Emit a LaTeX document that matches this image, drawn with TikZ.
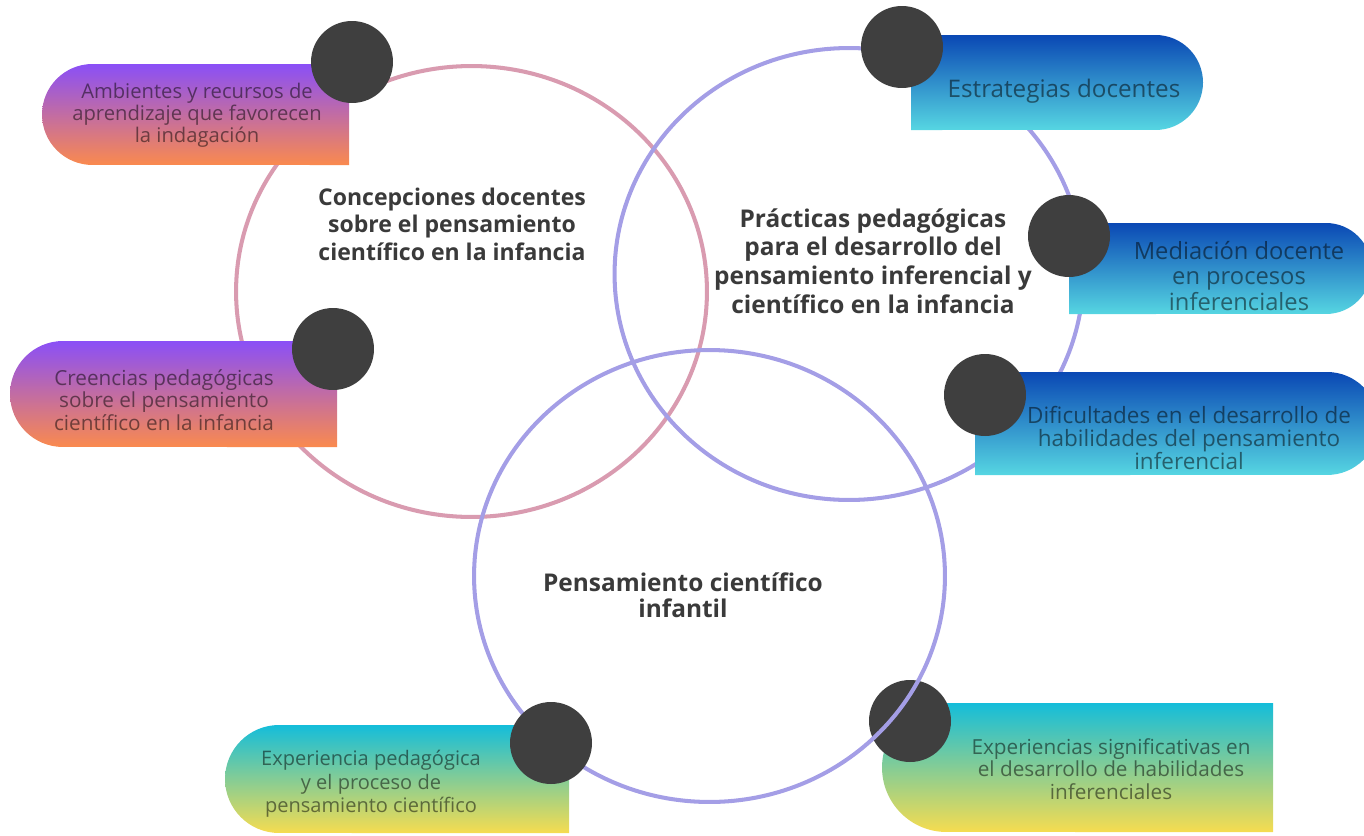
\documentclass[tikz,border=0pt]{standalone}
\usepackage{fontspec}
\setmainfont{Open Sans}
\definecolor{pinkring}{HTML}{D99BB0}
\definecolor{lavring}{HTML}{A49EE6}
\definecolor{dotgray}{HTML}{3F3F3F}
\definecolor{violetT}{HTML}{8A4FF7}
\definecolor{orangeB}{HTML}{FA8A4E}
\definecolor{blueT}{HTML}{0A48B4}
\definecolor{cyanB}{HTML}{56D6E2}
\definecolor{cyanT}{HTML}{14BDDA}
\definecolor{yellowB}{HTML}{F6DC50}
\definecolor{maintext}{HTML}{3A3A3A}
\begin{document}
\begin{tikzpicture}[x=0.02cm,y=-0.02cm,
  ring/.style={line width=2.3pt},
  dot/.style={circle, fill=dotgray, minimum size=1.64cm, inner sep=0pt},
  warm/.style={top color=violetT, bottom color=orangeB},
  cool/.style={top color=blueT, bottom color=cyanB},
  fresh/.style={top color=cyanT, bottom color=yellowB},
  lbl/.style={align=center, text=black, text opacity=0.5, inner sep=0pt},
  title/.style={align=center, text=maintext, inner sep=0pt}]
\useasboundingbox (0,0) rectangle (1364,835);
\clip (0,0) rectangle (1364,835);

\coordinate (cA) at (471.5,291.5);
\coordinate (cB) at (849,274);
\coordinate (cC) at (709.5,576);

% rings (top two)
\draw[ring, pinkring] (cA) ellipse [x radius=4.71cm, y radius=4.51cm];
\draw[ring, lavring] (cB) ellipse [x radius=4.69cm, y radius=4.52cm];

% box 1: Ambientes (left rounded)
\shade[warm] (349,64) -- (92.5,64) arc[start angle=90,end angle=270,radius=1.01cm] -- (349,165) -- cycle;
\node[dot] (d1) at (352,62) {};
\node[lbl, font=\fontsize{11.5}{12.6}\selectfont] (t1) at (197,115) {Ambientes y recursos de\\aprendizaje que favorecen\\la indagación};

% box 2: Creencias
\shade[warm] (337,341) -- (63,341) arc[start angle=90,end angle=270,radius=1.06cm] -- (337,447) -- cycle;
\node[dot] (d2) at (333,349) {};
\node[lbl, font=\fontsize{11.8}{12.8}\selectfont] (t2) at (164,400) {Creencias pedagógicas\\sobre el pensamiento\\científico en la infancia};

% box 3: Estrategias (right rounded)
\shade[cool] (911,35) -- (1155.5,35) arc[start angle=90,end angle=-90,radius=0.95cm] -- (911,130) -- cycle;
\node[dot] (d3) at (902,47) {};
\node[lbl, font=\fontsize{13.8}{15}\selectfont] (t3) at (1064,91) {Estrategias docentes};

% box 4: Mediación
\shade[cool] (1069,223) -- (1326,223) arc[start angle=90,end angle=-90,radius=0.91cm] -- (1069,314) -- cycle;
\node[dot] (d4) at (1069,236) {};
\node[lbl, font=\fontsize{13.5}{14.7}\selectfont] (t4) at (1239,276) {Mediación docente\\en procesos\\inferenciales};

% box 5: Dificultades
\shade[cool] (975,372) -- (1327,372) arc[start angle=90,end angle=-90,radius=1.03cm] -- (975,475) -- cycle;
\node[dot] (d5) at (985,395) {};
\node[lbl, font=\fontsize{12.8}{13.3}\selectfont] (t5) at (1189,438) {Dificultades en el desarrollo de\\habilidades del pensamiento\\inferencial};

% box 7: Experiencias significativas
\shade[fresh] (1273,703) -- (946.5,703) arc[start angle=90,end angle=270,radius=1.29cm] -- (1273,832) -- cycle;
\node[dot] (d7) at (910,721) {};
\node[lbl, font=\fontsize{11.8}{12.8}\selectfont] (t7) at (1111,769) {Experiencias significativas en\\el desarrollo de habilidades\\inferenciales};

% bottom ring
\draw[ring, lavring] (cC) ellipse [x radius=4.71cm, y radius=4.52cm];

% box 6: Experiencia pedagógica
\shade[fresh] (569,725) -- (279,725) arc[start angle=90,end angle=270,radius=1.08cm] -- (569,833) -- cycle;
\node[dot] (d6) at (551,743) {};
\node[lbl, font=\fontsize{11.4}{13.3}\selectfont] (t6) at (371,784) {Experiencia pedagógica\\y el proceso de\\pensamiento científico};

% titles
\node[title, font=\bfseries\fontsize{13.1}{15.6}\selectfont] (tA) at (452,224) {Concepciones docentes\\sobre el pensamiento\\científico en la infancia};
\node[title, font=\bfseries\fontsize{13.9}{16.3}\selectfont] (tB) at (873,261) {Prácticas pedagógicas\\para el desarrollo del\\pensamiento inferencial y\\científico en la infancia};
\node[title, font=\bfseries\fontsize{13.9}{15}\selectfont] (tC) at (683,595) {Pensamiento científico\\infantil};
\end{tikzpicture}
\end{document}
